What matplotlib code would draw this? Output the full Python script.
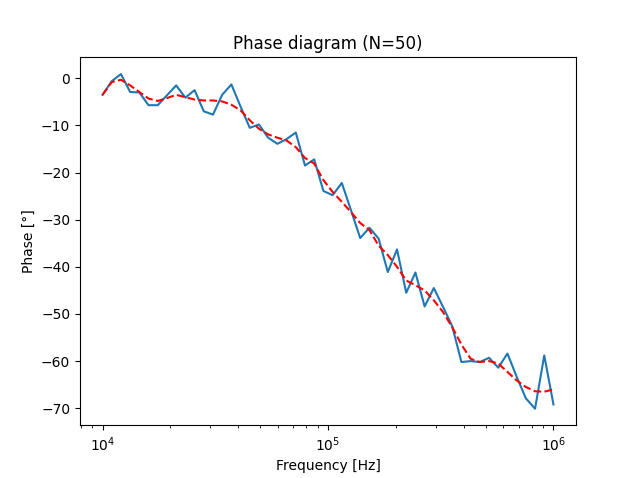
import numpy as np
import matplotlib
matplotlib.use("Agg")
import matplotlib.pyplot as plt

N = 50
freq = np.logspace(4, 6, N)  # 50 log-spaced frequencies, 10 kHz .. 1 MHz

phase = [-3.5, -0.6, 0.9, -2.9, -3.0, -5.7, -5.7, -3.6, -1.5, -4.1,
         -2.5, -7.0, -7.7, -3.5, -1.3, -6.0, -10.5, -9.8, -12.6, -13.9,
         -12.9, -11.5, -18.5, -17.2, -23.9, -24.8, -22.2, -28.0, -33.9, -31.7,
         -34.0, -41.1, -36.3, -45.5, -41.2, -48.4, -44.5, -48.5, -52.6, -60.2,
         -60.0, -60.2, -59.3, -61.4, -58.4, -63.3, -67.9, -70.1, -58.8, -69.2]

phase_smooth = [-3.5, -0.8, -0.3, -1.5, -2.9, -4.3, -4.8, -4.2, -3.5, -4.0,
                -4.5, -4.7, -4.7, -4.9, -5.6, -6.8, -8.9, -10.7, -11.9, -12.6,
                -13.2, -14.6, -16.9, -18.1, -21.6, -24.1, -26.2, -28.4, -30.7, -32.2,
                -35.5, -37.5, -40.0, -42.9, -43.9, -45.0, -47.1, -49.6, -52.8, -56.5,
                -59.5, -60.2, -60.0, -60.5, -62.3, -64.1, -65.5, -66.4, -66.5, -66.0]

fig, ax = plt.subplots(figsize=(6.4, 4.78), dpi=100)
ax.semilogx(freq, phase)
ax.semilogx(freq, phase_smooth, "r--")
ax.set_title("Phase diagram (N=%d)" % N)
ax.set_xlabel("Frequency [Hz]")
ax.set_ylabel("Phase [°]")

fig.savefig("out.png")
